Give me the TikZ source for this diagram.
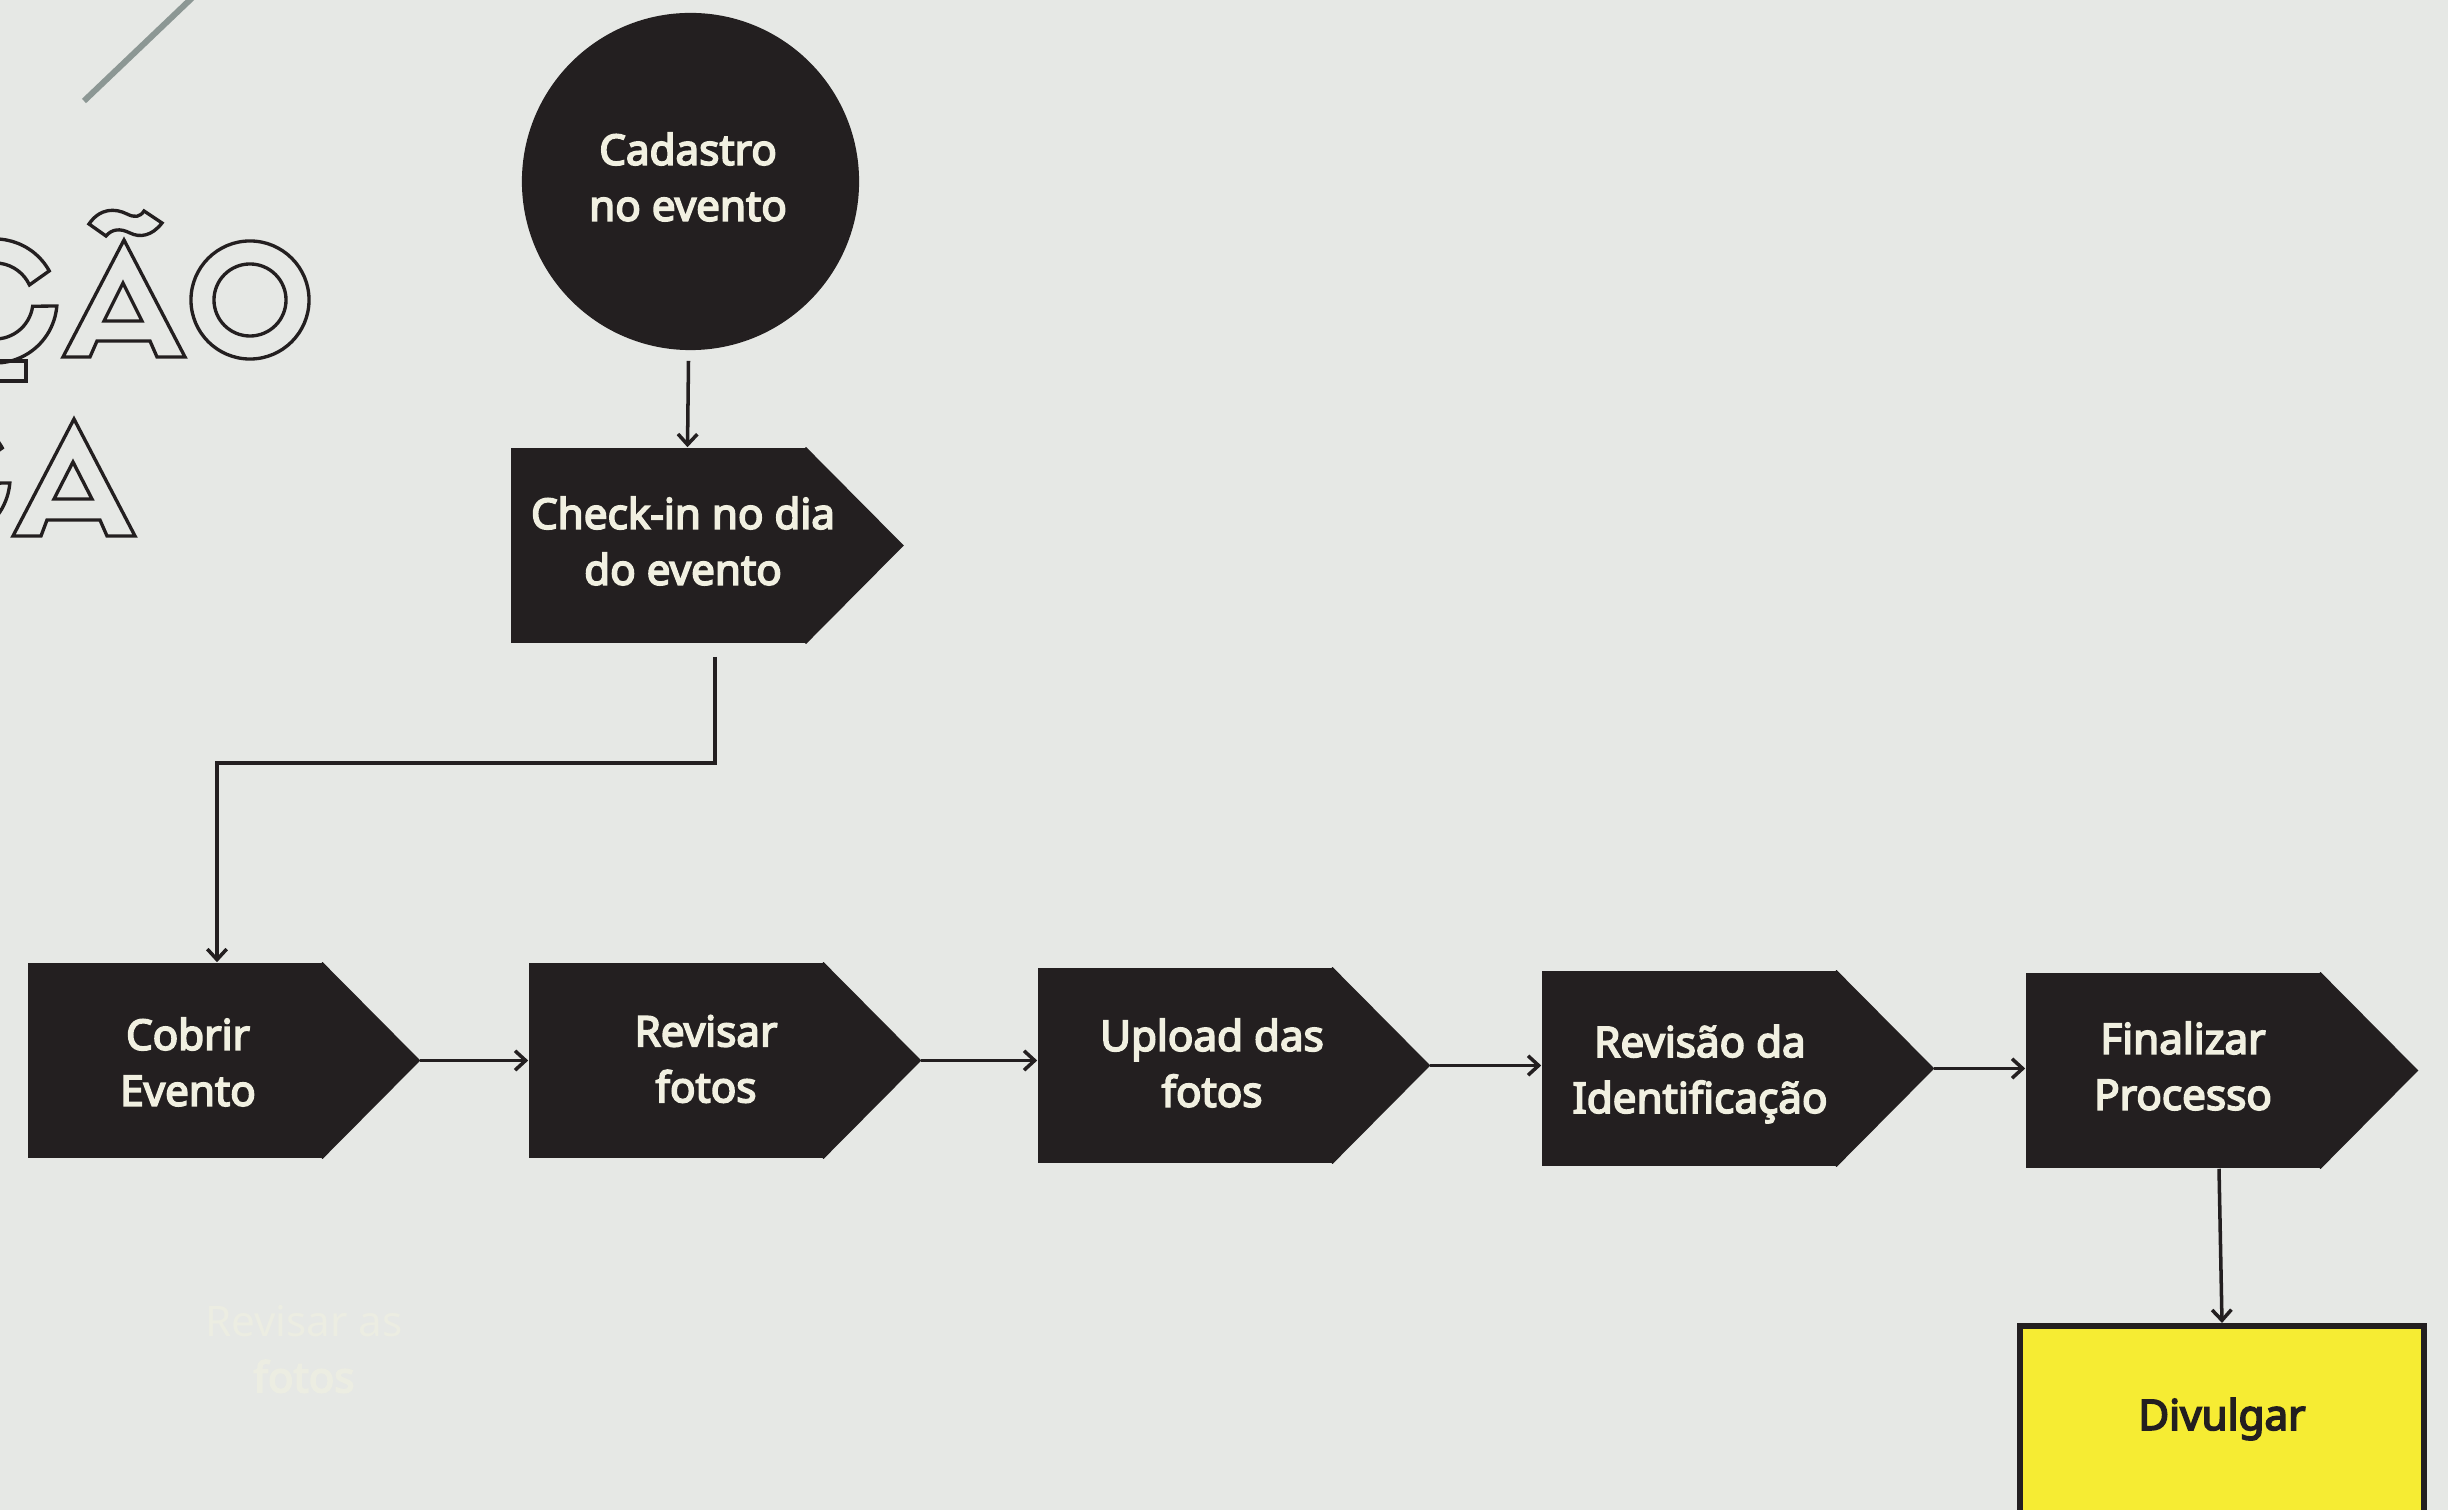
\documentclass[tikz,border=0pt]{standalone}
\usepackage{fontspec}
\setmainfont{Noto Sans}[AutoFakeBold=4]
\usetikzlibrary{arrows.meta,calc}
\definecolor{bg}{HTML}{E6E8E5}
\definecolor{ink}{HTML}{231F20}
\definecolor{cream}{HTML}{F1F0E1}
\definecolor{yel}{HTML}{F6EC33}
\definecolor{slate}{HTML}{8C9794}
\definecolor{faint}{HTML}{ECEDE2}
\newcommand{\flowstep}[6]{% name, cx, cy, text x, text y, text
  \node[stepbox] (#1) at (#2,#3) {};
  \fill[ink] ($(#1.north east)+(-1,0)$) -- (#1.north east) -- ($(#1.east)+(97.5,0)$) coordinate (#1-tip) -- (#1.south east) -- ($(#1.south east)+(-1,0)$) -- cycle;
  \node[steptext] (#1-t) at (#4,#5) {#6};
}
\begin{document}
\begin{tikzpicture}[x=0.01cm,y=-0.01cm,
  stepbox/.style={rectangle, fill=ink, minimum width=2.94cm, minimum height=1.95cm, inner sep=0pt},
  steptext/.style={text=cream, font=\fontsize{12}{15.9}\selectfont\bfseries, align=center, inner sep=0pt},
  conn/.style={draw=ink, line width=1pt},
  arr/.style={conn, -{Straight Barb[length=3pt,width=5.5pt,line width=1pt]}},
  outline/.style={draw=ink, line width=0.95pt, fill=none, line join=miter},
  deco/.style={draw=slate, line width=1.7pt}
]
\fill[bg] (0,0) rectangle (2448,1510);
\useasboundingbox (0,0) rectangle (2448,1510);

% decorative line
\draw[deco] (84,101) -- (192,-2);

% outlined title letters (partly cut off at left)
\begin{scope}[shift={(-5,301)}, x=0.01cm, y=0.01cm]
  \draw[outline] (29:0.62cm) arc[start angle=29, end angle=355.4, radius=0.62cm]
     -- (352:0.38cm) arc[start angle=352, end angle=25, radius=0.38cm] -- cycle;
\end{scope}
\draw[outline] (-30,361) rectangle (26,381);
\draw[outline] (124,240) -- (185,357) -- (157,357) -- (150,341) -- (97,341) -- (90,357) -- (63,357) -- cycle;
\draw[outline] (123,283) -- (142,321) -- (104,321) -- cycle;
\draw[outline] (89,224) .. controls (100,208) and (115,208) .. (127,214)
   .. controls (135,218) and (140,217) .. (144,211) -- (162,223)
   .. controls (152,236) and (140,238) .. (130,233)
   .. controls (120,228) and (112,229) .. (106,236) -- cycle;
\draw[outline] (250,300) circle[radius=0.59cm];
\draw[outline] (250,300) circle[radius=0.36cm];
\begin{scope}[shift={(-52,478)}, x=0.01cm, y=0.01cm]
  \draw[outline] (29:0.62cm) arc[start angle=29, end angle=355.4, radius=0.62cm]
     -- (352:0.38cm) arc[start angle=352, end angle=25, radius=0.38cm] -- cycle;
\end{scope}
\draw[outline] (74,419) -- (135,536) -- (107,536) -- (100,520) -- (47,520) -- (41,536) -- (13,536) -- cycle;
\draw[outline] (73,462) -- (92,499) -- (54,499) -- cycle;

% start circle
\node[circle, fill=ink, minimum size=3.37cm, inner sep=0pt] (cad) at (690.5,181.5) {};
\node[steptext] (cad-t) at (688,177) {Cadastro\\no evento};

% steps
\flowstep{chk}{658.5}{545.5}{683}{541}{Check-in no dia\\do evento}
\flowstep{cob}{175}{1060.5}{188}{1062}{Cobrir\\Evento}
\flowstep{rev}{676}{1060.5}{706}{1059}{Revisar\\fotos}
\flowstep{upl}{1185}{1065.5}{1212}{1063}{Upload das\\fotos}
\flowstep{rid}{1689}{1068.5}{1700}{1074}{Revisão da\\Identificação}
\flowstep{fin}{2173}{1070.5}{2183}{1066}{Finalizar\\Processo}

% final box
\node[rectangle, draw=ink, line width=1.7pt, fill=yel, minimum width=4.04cm, minimum height=1.95cm, inner sep=0pt] (div) at (2222,1423.5) {};
\node[steptext, text=ink] (div-t) at (2222,1419) {Divulgar};

% faint leftover text
\node[align=center, inner sep=0pt, text=faint, font=\fontsize{12}{15.9}\selectfont] (ghost) at (304,1349) {Revisar as\\\textbf{fotos}};

% connectors
\coordinate (j1) at ($(chk.south)+(56.5,13)$);
\coordinate (j2) at ($(cob.north)+(42,0)$);
\draw[arr] ($(cad.south)+(-2,10)$) -- ($(chk.north)+(29,0)$);
\draw[arr] (j1) -- ++(0,106) -| (j2);
\draw[arr] (cob-tip) -- (cob-tip -| rev.west);
\draw[arr] (rev-tip) -- (rev-tip -| upl.west);
\draw[arr] (upl-tip) -- (upl-tip -| rid.west);
\draw[arr] (rid-tip) -- (rid-tip -| fin.west);
\draw[arr] ($(fin.south)+(46,0)$) -- (div.north);
\end{tikzpicture}
\end{document}
